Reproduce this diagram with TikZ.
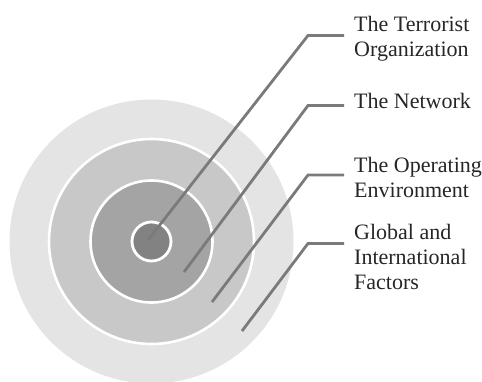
\documentclass[tikz,border=0pt]{standalone}
\usepackage{fontspec}
\setmainfont{Liberation Serif}
\definecolor{ringA}{HTML}{E4E4E4}
\definecolor{ringB}{HTML}{C8C8C8}
\definecolor{ringC}{HTML}{A4A4A4}
\definecolor{ringD}{HTML}{828282}
\definecolor{leader}{HTML}{7A7A7A}
\begin{document}
\begin{tikzpicture}[x=1pt,y=-1pt,
  disc/.style={draw=white,line width=2.6pt},
  leaderline/.style={draw=leader,line width=2.8pt},
  lbl/.style={anchor=base west,align=left,inner xsep=10pt,inner ysep=0pt,
    font=\fontsize{22}{25}\selectfont,text=black!85}]
  \useasboundingbox (0,0) rectangle (482,381);
  % concentric rings
  \coordinate (c) at (151.5,241.5);
  \fill[ringA] (c) circle[radius=142pt];
  \path[disc,fill=ringB] (c) circle[radius=102.5pt];
  \path[disc,fill=ringC] (c) circle[radius=61pt];
  \path[disc,fill=ringD,line width=2.8pt] (c) circle[radius=19.5pt];
  % labels (base anchor sits on the last line)
  \node[lbl] (org) at (344,56) {The Terrorist\\Organization};
  \node[lbl] (net) at (344,108) {The Network};
  \node[lbl] (env) at (344,197) {The Operating\\Environment};
  \node[lbl] (glo) at (344,289) {Global and\\International\\Factors};
  % leader lines
  \coordinate (s1) at (148,240);   \coordinate (k1) at (308,35.5);
  \coordinate (s2) at (184,272);   \coordinate (k2) at (308,105.5);
  \coordinate (s3) at (212,302);   \coordinate (k3) at (308,175);
  \coordinate (s4) at (242,331);   \coordinate (k4) at (308,243.5);
  \draw[leaderline] (s1) -- (k1) -- (k1 -| org.west);
  \draw[leaderline] (s2) -- (k2) -- (k2 -| net.west);
  \draw[leaderline] (s3) -- (k3) -- (k3 -| env.west);
  \draw[leaderline] (s4) -- (k4) -- (k4 -| glo.west);
\end{tikzpicture}
\end{document}
